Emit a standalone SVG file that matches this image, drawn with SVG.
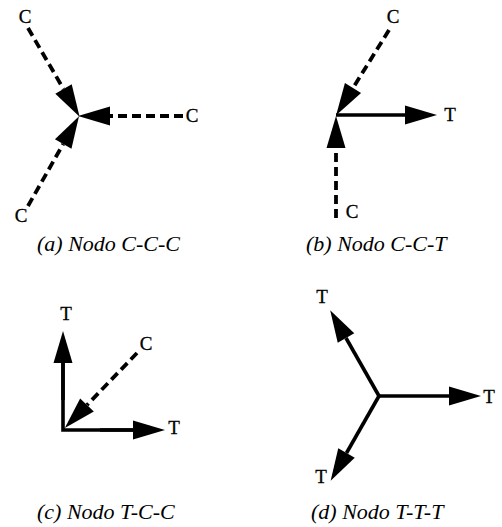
<svg xmlns="http://www.w3.org/2000/svg" width="502" height="527" viewBox="0 0 502 527">
<style>
.bg{fill:#fff}
.solid{stroke:#000;stroke-width:3.6;fill:none}
.dash{stroke:#000;stroke-width:3.8;fill:none;stroke-dasharray:9 5}
.lbl{font-family:"Liberation Serif","Times New Roman",serif;font-size:19px;fill:#000;text-anchor:middle;stroke:#000;stroke-width:0.3}
.cap{font-family:"Liberation Serif","Times New Roman",serif;font-size:22px;font-style:italic;fill:#000}
</style>
<defs>
<marker id="ah" markerUnits="userSpaceOnUse" markerWidth="33" markerHeight="20" refX="0" refY="9.5" orient="auto" overflow="visible">
<path d="M0,0 L32,9.5 L0,19 Z" fill="#000"/>
</marker>
</defs>
<rect class="bg" width="502" height="527"/>
<g id="connectors">
<!-- (a) -->
<line class="dash" x1="28" y1="28" x2="63.5" y2="89" marker-end="url(#ah)"/>
<line class="dash" x1="183" y1="116" x2="110" y2="116" marker-end="url(#ah)"/>
<line class="dash" x1="28" y1="206" x2="63.2" y2="144" marker-end="url(#ah)"/>
<!-- (b) -->
<line class="dash" x1="389" y1="30" x2="353" y2="88" marker-end="url(#ah)"/>
<line class="solid" x1="336" y1="115" x2="405" y2="115" marker-end="url(#ah)"/>
<line class="dash" x1="336" y1="218" x2="336" y2="148" marker-end="url(#ah)"/>
<!-- (c) -->
<polyline class="solid" points="63,362 63,430 133,430"/>
<line class="solid" x1="63" y1="400" x2="63" y2="363" marker-end="url(#ah)"/>
<line class="solid" x1="100" y1="430" x2="133" y2="430" marker-end="url(#ah)"/>
<line class="dash" x1="137" y1="353" x2="87" y2="405" marker-end="url(#ah)"/>
<!-- (d) -->
<line class="solid" x1="379" y1="396" x2="449" y2="396" marker-end="url(#ah)"/>
<line class="solid" x1="379" y1="396" x2="346" y2="338" marker-end="url(#ah)"/>
<line class="solid" x1="379" y1="396" x2="346.5" y2="453" marker-end="url(#ah)"/>
</g>
<g id="node-a">
<text class="lbl" x="25" y="23">C</text>
<text class="lbl" x="192" y="122">C</text>
<text class="lbl" x="21" y="222">C</text>
<text class="cap" x="37" y="251">(a) Nodo C-C-C</text>
</g>
<g id="node-b">
<text class="lbl" x="393" y="23">C</text>
<text class="lbl" x="450" y="121">T</text>
<text class="lbl" x="352" y="218">C</text>
<text class="cap" x="306" y="251">(b) Nodo C-C-T</text>
</g>
<g id="node-c">
<text class="lbl" x="66" y="320">T</text>
<text class="lbl" x="146" y="350">C</text>
<text class="lbl" x="174" y="434">T</text>
<text class="cap" x="37" y="519">(c) Nodo T-C-C</text>
</g>
<g id="node-d">
<text class="lbl" x="322" y="303">T</text>
<text class="lbl" x="489" y="403">T</text>
<text class="lbl" x="321" y="483">T</text>
<text class="cap" x="311" y="519">(d) Nodo T-T-T</text>
</g>
</svg>
